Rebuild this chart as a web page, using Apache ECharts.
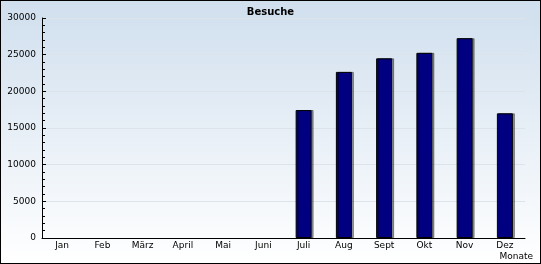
<!DOCTYPE html>
<html><head><meta charset="utf-8">
<script src="https://cdn.jsdelivr.net/npm/echarts@6/dist/echarts.min.js"></script>
<style>html,body{margin:0;padding:0;}#c{width:541px;height:264px;box-sizing:border-box;border:1px solid #000;background:linear-gradient(#d0dfee,#ffffff);}</style>
</head><body><div id="c"></div>
<script>
const categories = ['Jan','Feb','März','April','Mai','Juni','Juli','Aug','Sept','Okt','Nov','Dez'];
const visits = [0,0,0,0,0,0,17450,22650,24500,25250,27250,17000];
const chart = echarts.init(document.getElementById('c'), null, {renderer:'canvas'});
const font = 'DejaVu Sans';
chart.setOption({
  animation:false,
  backgroundColor:'transparent',
  title:{text:'Besuche',left:'center',top:1,textStyle:{fontFamily:font,fontSize:10,fontWeight:'bold',color:'#000'}},
  grid:{left:41,right:15,top:17,bottom:25,containLabel:false},
  xAxis:{type:'category',data:categories,
    name:'Monate',nameLocation:'end',nameGap:0,
    nameTextStyle:{fontFamily:font,fontSize:9,color:'#000',align:'right',verticalAlign:'top',padding:[14,-8,0,0]},
    axisLine:{lineStyle:{color:'#000',width:1}},
    axisTick:{inside:true,length:4,lineStyle:{color:'#000'}},
    axisLabel:{fontFamily:font,fontSize:9,color:'#000',margin:3},
    splitLine:{show:false}},
  yAxis:{type:'value',min:0,max:30000,interval:5000,
    axisLine:{show:true,lineStyle:{color:'#000',width:1}},
    axisTick:{show:true,inside:true,length:4,lineStyle:{color:'#000'}},
    minorTick:{show:true,splitNumber:5,length:3,lineStyle:{color:'#000',width:1}},
    axisLabel:{fontFamily:font,fontSize:9,color:'#000',margin:6,formatter:v=>String(v)},
    splitLine:{show:true,lineStyle:{color:'#dde3ea',width:1}}},
  series:[{type:'bar',data:visits.map(v=>v===0?'-':v),barWidth:16,
    itemStyle:{color:'#000080',borderColor:'#000',borderWidth:1,shadowColor:'rgba(0,0,0,0.4)',shadowOffsetX:2,shadowOffsetY:0,shadowBlur:0}}]
});
</script></body></html>
